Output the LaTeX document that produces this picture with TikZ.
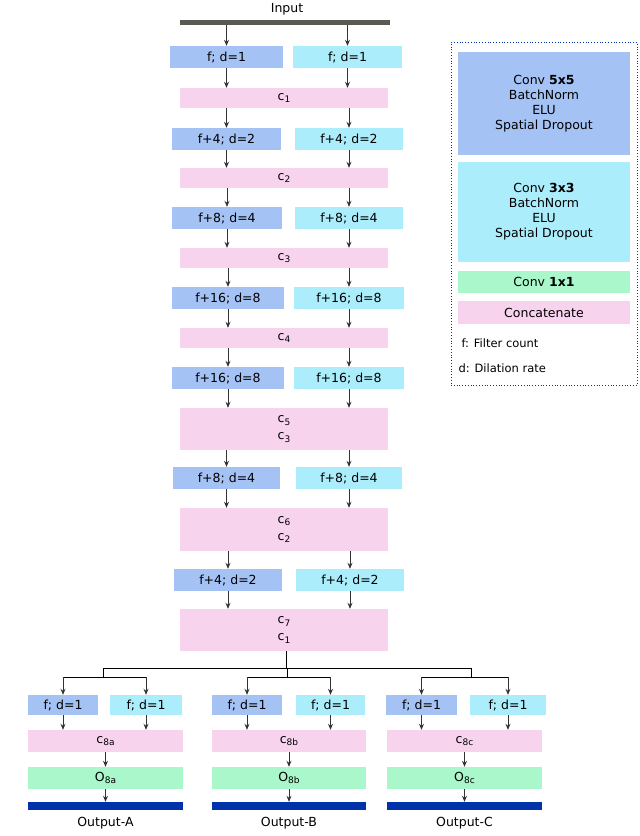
\documentclass[tikz,border=0pt]{standalone}
\usepackage{fontspec}
\setmainfont{DejaVu Sans}
\usetikzlibrary{arrows.meta}
\definecolor{cb}{HTML}{A4C2F4}
\definecolor{cc}{HTML}{ABEDFB}
\definecolor{cp}{HTML}{F8D3EE}
\definecolor{cg}{HTML}{A9F7CB}
\definecolor{cdb}{HTML}{0033AA}
\definecolor{cgr}{HTML}{5A5A52}
\definecolor{ca}{HTML}{333333}
\newcommand\subx[1]{\raisebox{-0.35ex}{\fontsize{9}{9}\selectfont #1}}
\newcommand\bx[7]{\node[fill=#6,inner sep=0pt,minimum width={(#4-#2)*1pt},minimum height={(#5-#3)*1pt},align=center] (#1) at ({(#2+#4)/2},{(#3+#5)/2}) {#7};}
\begin{document}
\begin{tikzpicture}[x=1pt,y=-1pt,font=\fontsize{12.5}{15}\selectfont,
  arr/.style={draw=ca,line width=0.9pt,-{Stealth[length=6pt,width=5pt]}}]
\useasboundingbox (0,0) rectangle (640,836);
\node at (287,9) {Input};
\bx{inp}{180}{20}{390}{25}{cgr}{}
% rows
\bx{L1}{170}{46}{283}{68}{cb}{f; d=1}
\bx{R1}{293}{46}{402}{68}{cc}{f; d=1}
\bx{C1}{180}{88}{388}{108}{cp}{c\subx{1}}
\bx{L2}{172}{128}{281}{150}{cb}{f+4; d=2}
\bx{R2}{295}{128}{403}{150}{cc}{f+4; d=2}
\bx{C2}{180}{168}{388}{188}{cp}{c\subx{2}}
\bx{L3}{172}{207}{282}{229}{cb}{f+8; d=4}
\bx{R3}{295}{207}{403}{229}{cc}{f+8; d=4}
\bx{C3}{180}{248}{388}{268}{cp}{c\subx{3}}
\bx{L4}{172}{287}{284}{309}{cb}{f+16; d=8}
\bx{R4}{294}{287}{404}{309}{cc}{f+16; d=8}
\bx{C4}{180}{328}{388}{348}{cp}{c\subx{4}}
\bx{L5}{172}{367}{284}{389}{cb}{f+16; d=8}
\bx{R5}{294}{367}{404}{389}{cc}{f+16; d=8}
\bx{C5}{180}{408}{388}{450}{cp}{c\subx{5}\\[2pt]c\subx{3}}
\bx{L6}{173}{467}{280}{489}{cb}{f+8; d=4}
\bx{R6}{296}{467}{402}{489}{cc}{f+8; d=4}
\bx{C6}{180}{508}{388}{551}{cp}{c\subx{6}\\[2pt]c\subx{2}}
\bx{L7}{174}{569}{282}{591}{cb}{f+4; d=2}
\bx{R7}{296}{569}{404}{591}{cc}{f+4; d=2}
\bx{C7}{180}{609}{388}{651}{cp}{c\subx{7}\\[2pt]c\subx{1}}
\draw[arr] (L1.north|-inp.south) -- (L1.north);
\draw[arr] (R1.north|-inp.south) -- (R1.north);
\foreach \i/\j in {1/1,2/2,3/3,4/4,5/5,6/6,7/7}{
  \draw[arr] (L\i.south) -- (L\i.south|-C\j.north);
  \draw[arr] (R\i.south) -- (R\i.south|-C\j.north);}
\foreach \i/\j in {1/2,2/3,3/4,4/5,5/6,6/7}{
  \draw[arr] (C\i.south-|L\j.north) -- (L\j.north);
  \draw[arr] (C\i.south-|R\j.north) -- (R\j.north);}
% branches
\coordinate (t0) at (286,668);
\draw[line width=0.9pt,draw=black] (C7.south-|t0) -- (t0) (103,668) -- (471,668);
\foreach \n/\cx/\a/\b/\la/\lb/\ra/\rb/\s in {A/103/28/183/28/98/110/182/a,B/287/212/366/212/282/296/365/b,C/471/387/542/386/457/470/546/c}{
  \bx{l\n}{\la}{695}{\lb}{715}{cb}{f; d=1}
  \bx{r\n}{\ra}{695}{\rb}{715}{cc}{f; d=1}
  \bx{c\n}{\a}{730}{\b}{752}{cp}{c\subx{8\s}}
  \bx{o\n}{\a}{767}{\b}{789}{cg}{O\subx{8\s}}
  \bx{e\n}{\a}{802}{\b}{810}{cdb}{}
  \node at ({(\a+\b)/2},823) {Output-\n};
  \draw[line width=0.9pt] (\cx,668) -- (\cx,677) (lA.north|-0,677) coordinate (dummy);
  \draw[line width=0.9pt] (l\n.north|-0,677) -- (r\n.north|-0,677);
  \draw[arr] (l\n.north|-0,677) -- (l\n.north);
  \draw[arr] (r\n.north|-0,677) -- (r\n.north);
  \draw[arr] (l\n.south) -- (l\n.south|-c\n.north);
  \draw[arr] (r\n.south) -- (r\n.south|-c\n.north);
  \draw[arr] (c\n.south) -- (o\n.north);
  \draw[arr] (o\n.south) -- (e\n.north);
}
% legend
\node[draw=cdb,dotted,line width=0.8pt,minimum width=186pt,minimum height=343pt,inner sep=0pt] (leg) at (544,213.5) {};
\bx{g1}{458}{52}{630}{155}{cb}{Conv \textbf{5x5}\\BatchNorm\\ELU\\Spatial Dropout}
\bx{g2}{458}{162}{630}{262}{cc}{Conv \textbf{3x3}\\BatchNorm\\ELU\\Spatial Dropout}
\bx{g3}{458}{271}{630}{293}{cg}{Conv \textbf{1x1}}
\bx{g4}{458}{301}{630}{324}{cp}{Concatenate}
\node[anchor=west,font=\fontsize{11.5}{14}\selectfont] (f1) at (458,343) {f: Filter count};
\node[anchor=west,font=\fontsize{11.5}{14}\selectfont] (f2) at (455,368) {d: Dilation rate};
\end{tikzpicture}
\end{document}
